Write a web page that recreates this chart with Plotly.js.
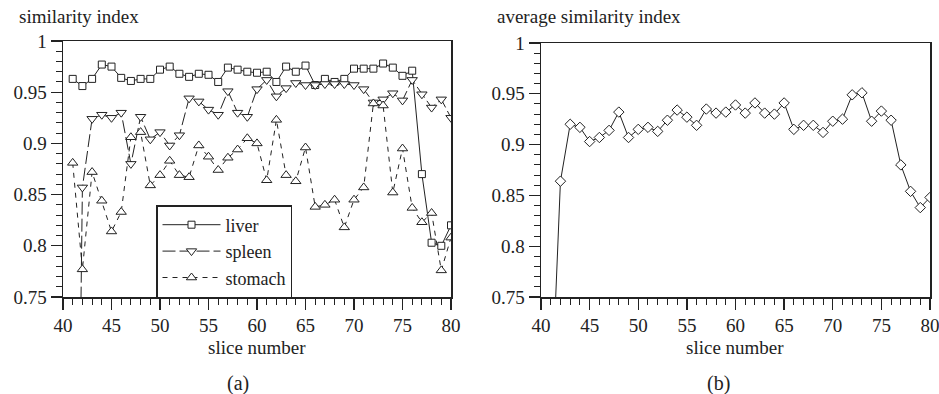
<!DOCTYPE html>
<html>
<head>
<meta charset="utf-8">
<script src="https://cdn.plot.ly/plotly-3.0.1.min.js"></script>
<style>html,body{margin:0;padding:0;background:#fff;}#chart{width:939px;height:394px;}</style>
</head>
<body>
<div id="chart"></div>
<script>
const slices = [41,42,43,44,45,46,47,48,49,50,51,52,53,54,55,56,57,58,59,60,61,62,63,64,65,66,67,68,69,70,71,72,73,74,75,76,77,78,79,80];
const liver = [0.963,0.956,0.963,0.977,0.975,0.964,0.961,0.963,0.963,0.972,0.975,0.968,0.965,0.968,0.967,0.960,0.974,0.972,0.970,0.969,0.970,0.960,0.975,0.970,0.976,0.957,0.963,0.960,0.963,0.973,0.973,0.973,0.978,0.974,0.966,0.971,0.870,0.803,0.800,0.820];
const spleen = [0.10,0.857,0.924,0.928,0.925,0.930,0.880,0.926,0.904,0.911,0.898,0.908,0.944,0.941,0.933,0.928,0.951,0.930,0.926,0.953,0.962,0.946,0.954,0.959,0.957,0.957,0.958,0.958,0.958,0.957,0.953,0.940,0.943,0.949,0.942,0.962,0.948,0.935,0.943,0.925];
const stomach = [0.881,0.777,0.872,0.844,0.814,0.833,0.906,0.911,0.859,0.869,0.883,0.869,0.867,0.898,0.887,0.874,0.886,0.894,0.905,0.900,0.864,0.923,0.869,0.863,0.896,0.838,0.840,0.845,0.818,0.845,0.857,0.939,0.937,0.852,0.895,0.837,0.823,0.832,0.776,0.808];
const average = [0.63,0.864,0.920,0.917,0.903,0.907,0.914,0.932,0.907,0.915,0.917,0.913,0.924,0.934,0.927,0.919,0.935,0.931,0.932,0.939,0.931,0.941,0.931,0.930,0.941,0.915,0.919,0.919,0.912,0.923,0.925,0.949,0.951,0.923,0.933,0.924,0.880,0.854,0.838,0.848];
const seriesNames = ['liver','spleen','stomach'];
const panelTitles = ['similarity index','average similarity index'];
const xTitle = 'slice number';
const panelLabels = ['(a)','(b)'];

const W = 939, H = 394;
const FONT = 'Liberation Serif';
const INK = '#222';
const px = v => v / W;
const py = v => 1 - v / H;

function mk(sym, size) {
  return {symbol: sym, size: size, color: '#fff', line: {color: INK, width: 1}};
}
const traces = [
  {x: slices, y: liver, name: seriesNames[0], mode: 'lines+markers', xaxis: 'x', yaxis: 'y',
   line: {color: INK, width: 1}, marker: mk('square', 7)},
  {x: slices, y: spleen, name: seriesNames[1], mode: 'lines+markers', xaxis: 'x', yaxis: 'y',
   line: {color: INK, width: 1, dash: '13px,4px'}, marker: mk('triangle-down', 9)},
  {x: slices, y: stomach, name: seriesNames[2], mode: 'lines+markers', xaxis: 'x', yaxis: 'y',
   line: {color: INK, width: 1, dash: '5px,5px'}, marker: mk('triangle-up', 9)},
  {x: slices, y: average, name: 'average', mode: 'lines+markers', xaxis: 'x2', yaxis: 'y2', showlegend: false,
   line: {color: INK, width: 1}, marker: mk('diamond', 8)}
];

function xax(domain, anchor) {
  return {domain: domain, anchor: anchor, range: [40, 80], tick0: 40, dtick: 5,
    ticks: 'outside', ticklen: 11, tickwidth: 1.3, tickcolor: INK,
    minor: {ticks: 'outside', dtick: 1, ticklen: 6, tickwidth: 1, tickcolor: INK},
    showline: true, linecolor: INK, linewidth: 1.5, mirror: true,
    showgrid: false, zeroline: false, automargin: false, ticklabeloverflow: 'allow',
    tickfont: {family: FONT, size: 19, color: INK}};
}
function yax(domain, anchor) {
  return {domain: domain, anchor: anchor, range: [0.75, 1], tick0: 0.75, dtick: 0.05,
    ticks: 'outside', ticklen: 11, tickwidth: 1.3, tickcolor: INK,
    minor: {ticks: 'outside', dtick: 0.01, ticklen: 6, tickwidth: 1, tickcolor: INK},
    showline: true, linecolor: INK, linewidth: 1.5, mirror: true,
    showgrid: false, zeroline: false, automargin: false, ticklabeloverflow: 'allow',
    tickfont: {family: FONT, size: 19, color: INK}};
}

const ann = (text, x, y, xanchor, size) => ({text: text, x: px(x), y: py(y), xref: 'paper', yref: 'paper',
  xanchor: xanchor, yanchor: 'middle', showarrow: false, font: {family: FONT, size: size, color: INK}});

const layout = {
  width: W, height: H,
  margin: {l: 0, r: 0, t: 0, b: 0},
  paper_bgcolor: '#fff', plot_bgcolor: '#fff',
  font: {family: FONT, size: 19, color: INK},
  xaxis: xax([px(63), px(451)], 'y'),
  yaxis: yax([py(297), py(41)], 'x'),
  xaxis2: xax([px(541), px(930)], 'y2'),
  yaxis2: yax([py(297), py(43)], 'x2'),
  showlegend: true,
  legend: {x: px(156), y: py(205), xanchor: 'left', yanchor: 'top', xref: 'paper', yref: 'paper',
    bgcolor: '#fff', bordercolor: INK, borderwidth: 1.5,
    font: {family: FONT, size: 18, color: INK}, itemwidth: 58, tracegroupgap: 0},
  annotations: [
    ann(panelTitles[0], 17, 17, 'left', 19),
    ann(panelTitles[1], 495, 17, 'left', 19),
    ann(xTitle, 257, 347, 'center', 19),
    ann(xTitle, 735, 347, 'center', 19),
    ann(panelLabels[0], 238, 383, 'center', 20),
    ann(panelLabels[1], 718, 383, 'center', 20)
  ]
};

Plotly.newPlot('chart', traces, layout, {staticPlot: true, displayModeBar: false});
</script>
</body>
</html>
